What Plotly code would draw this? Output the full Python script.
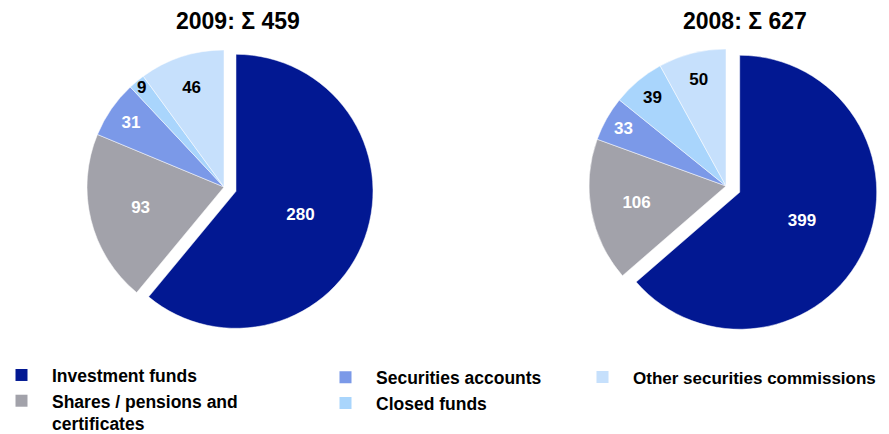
import plotly.graph_objects as go

# categories and values (EUR m)
categories = ["Investment funds", "Shares / pensions and<br>certificates",
              "Securities accounts", "Closed funds", "Other securities commissions"]
values_2009 = [280, 93, 31, 9, 46]
values_2008 = [399, 106, 33, 39, 50]
titles = ["2009: \u03a3 459", "2008: \u03a3 627"]

colors = ["#021892", "#a2a2aa", "#7b99e8", "#a9d5fc", "#c6e0fc"]
text_colors = ["white", "white", "white", "black", "black"]
FONT = "Liberation Sans, Arial, sans-serif"

# page has an 8px body margin, so the figure is a bit smaller than the window
W, H, OFF = 881, 426, 8

def px_x(x):
    return (x - OFF) / W

def px_y(y):
    return 1 - (y - OFF) / H

def pie_domain(cx, cy, r, pull):
    half = r * (1 + pull)
    return [px_x(cx - half), px_x(cx + half)], [px_y(cy + half), px_y(cy - half)]

fig = go.Figure()

def pie(vals, cx, cy, r, pull):
    dx, dy = pie_domain(cx, cy, r, pull)
    return go.Pie(
        labels=categories, values=vals, sort=False, direction="clockwise",
        rotation=0, pull=[pull, 0, 0, 0, 0],
        marker=dict(colors=colors, line=dict(color="white", width=0.5)),
        textinfo="value", textposition="inside",
        insidetextorientation="horizontal",
        textfont=dict(family=FONT, size=17, color=text_colors, weight="bold"),
        domain=dict(x=dx, y=dy), showlegend=False, hoverinfo="label+value",
    )

fig.add_trace(pie(values_2009, 224, 187, 137, 0.093))
fig.add_trace(pie(values_2008, 726, 186, 137, 0.11))

# legend-only traces (tiny pies in a corner), one per legend column
groups = [([0, 1], "legend"), ([2, 3], "legend2"), ([4], "legend3")]
for idx, lg in groups:
    fig.add_trace(go.Pie(
        labels=[categories[i] for i in idx], values=[values_2009[i] for i in idx],
        sort=False, marker=dict(colors=[colors[i] for i in idx]), textinfo="none",
        domain=dict(x=[0, 0.0001], y=[0, 0.0001]), legend=lg, showlegend=True,
        hoverinfo="skip",
    ))

legend_font = dict(family=FONT, size=17.5, color="black", weight="bold")
legend_common = dict(orientation="v", yanchor="top", y=0.175, xanchor="left",
                     font=legend_font, itemwidth=51, valign="top",
                     bgcolor="rgba(0,0,0,0)", itemclick=False, itemdoubleclick=False)

for t, tx in zip(titles, [238, 744.5]):
    fig.add_annotation(text="<b>" + t + "</b>", x=px_x(tx), y=px_y(21),
                       xref="paper", yref="paper", showarrow=False,
                       xanchor="center", yanchor="middle",
                       font=dict(family=FONT, size=23, color="black"))

fig.update_layout(
    width=W, height=H, margin=dict(l=0, r=0, t=0, b=0, autoexpand=False),
    paper_bgcolor="white", plot_bgcolor="white",
    uniformtext=dict(mode="show", minsize=17),
    legend=dict(legend_common, x=-17 / W, yanchor="bottom", y=-0.019),
    legend2=dict(legend_common, x=307 / W),
    legend3=dict(legend_common, x=564 / W, font=dict(legend_font, size=17)),
)

fig.write_html("out.html")
